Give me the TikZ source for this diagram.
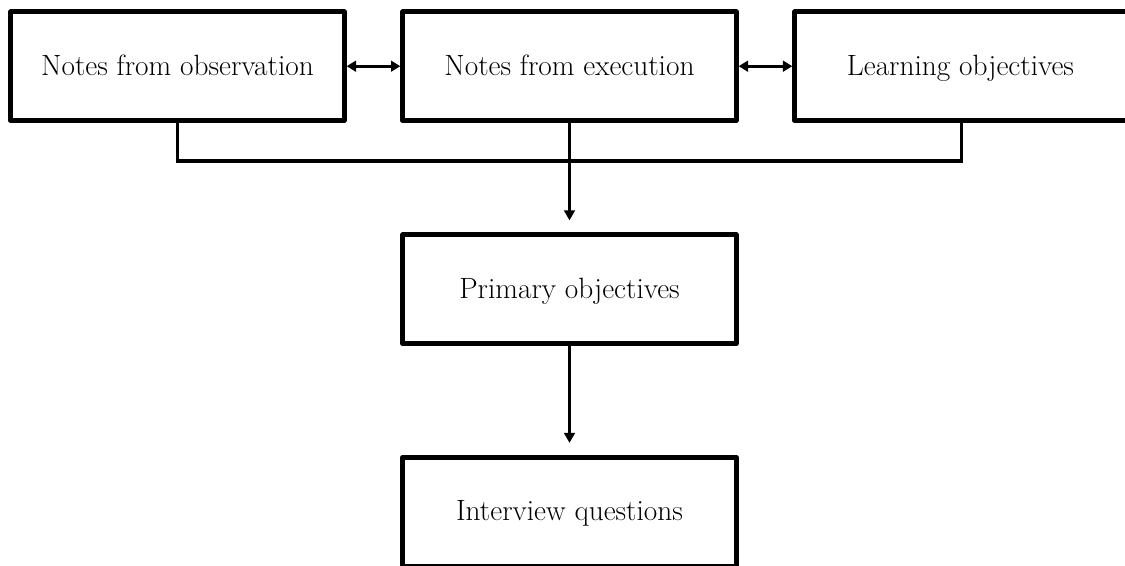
\documentclass[tikz,border=0pt]{standalone}
\usetikzlibrary{arrows.meta}
\begin{document}
\begin{tikzpicture}[x=0.75pt,y=-0.75pt,
  box/.style={draw=black,line width=3.75pt,line join=round,fill=white,
    minimum width=250pt,minimum height=81.5pt,inner sep=0pt,
    text height=16pt,text depth=2.5pt,
    font=\fontsize{22}{26}\selectfont},
  link/.style={draw=black,line width=2.4pt},
  tip/.style={-{Triangle[width=8pt,length=7.5pt]}},
  dtip/.style={{Triangle[width=8pt,length=7pt]}-{Triangle[width=8pt,length=7pt]}}]
\clip (0,0) rectangle (1125,565);
\useasboundingbox (0,0) rectangle (1125,565);

% source boxes on the top row
\node[box] (obs)  at (177.5,66.2) {Notes from observation};
\node[box] (exec) at (569.5,66.2) {Notes from execution};
\node[box,minimum width=258pt] (learn) at (966.8,66.2) {Learning objectives\hspace*{9.5pt}};

% derived boxes
\node[box] (prim) at (569.5,289.2) {Primary objectives};
\node[box] (intv) at (569.5,511.7) {Interview questions};

% links between the top boxes
\draw[link,dtip] (obs.east) -- (exec.west);
\draw[link,dtip] (exec.east) -- (learn.west);

% bracket joining the outer top boxes
\coordinate (bar) at (0,161);
\coordinate (learnfoot) at ([xshift=-3.9pt]learn.south);
\draw[link,line join=miter] (obs.south) -- (obs.south |- bar) -- (learnfoot |- bar) -- (learnfoot);

% arrows down the column
\coordinate (primtop) at ([yshift=9pt]prim.north);
\coordinate (intvtop) at ([yshift=9pt]intv.north);
\draw[link,tip] (exec.south) -- (primtop);
\draw[link,tip] (prim.south) -- (intvtop);
\end{tikzpicture}
\end{document}
